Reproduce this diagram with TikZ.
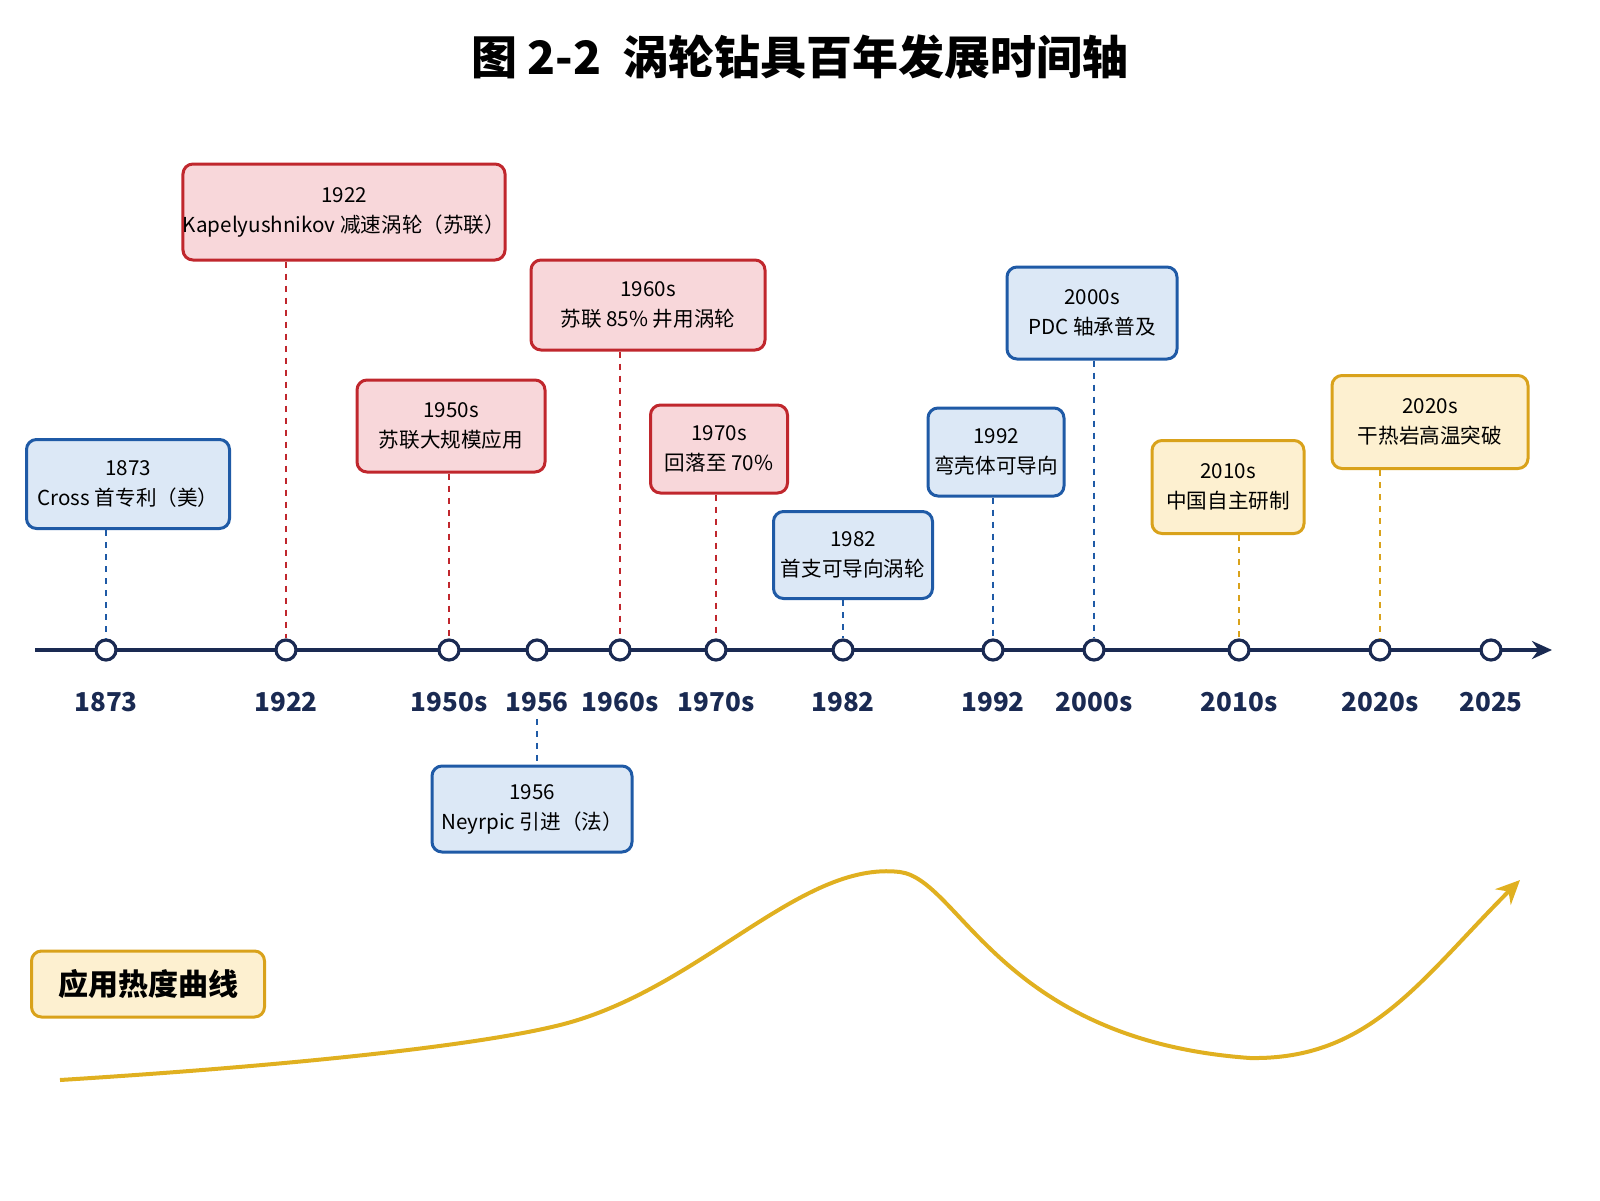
\documentclass[tikz,border=0pt]{standalone}
\usepackage{fontspec}
\setmainfont{Noto Sans CJK SC}
\usetikzlibrary{arrows.meta}
\definecolor{bfill}{HTML}{DCE8F6}\definecolor{bline}{HTML}{1F5AA6}
\definecolor{rfill}{HTML}{F8D7DA}\definecolor{rline}{HTML}{C0272D}
\definecolor{ofill}{HTML}{FDF0D0}\definecolor{oline}{HTML}{D9A21B}
\definecolor{navy}{HTML}{1A2A52}\definecolor{curve}{HTML}{E0B020}
\begin{document}
\begin{tikzpicture}[x=0.5pt,y=-0.5pt,
 box/.style={draw=#1line,fill=#1fill,line width=1.5pt,rounded corners=5pt,align=center,font=\fontsize{10.3}{15}\selectfont,text=black,inner sep=0pt},
 dl/.style={draw=#1line,dashed,line width=1pt},
 dot/.style={circle,draw=navy,fill=white,line width=1.6pt,minimum size=10pt,inner sep=0pt},
 yr/.style={font=\fontsize{13}{15}\selectfont\bfseries,text=navy}]
\useasboundingbox (0,0) rectangle (1600,1200);
\node[font=\fontsize{23}{26}\selectfont\bfseries] (title) at (800,57) {图 2-2\ \ 涡轮钻具百年发展时间轴};
\coordinate (a0) at (35,650); \coordinate (a1) at (1552,650);
\draw[navy,line width=2pt,-{Stealth[length=10pt,width=9pt]}] (a0) -- (a1);
\foreach \n/\x/\l in {p1/106/1873,p2/286/1922,p3/449/1950s,p4/537/1956,p5/620/1960s,p6/716/1970s,p7/843/1982,p8/993/1992,p9/1094/2000s,p10/1239/2010s,p11/1380/2020s,p12/1491/2025}{
 \node[dot] (\n) at (\x,650) {};
 \node[yr] (l\n) at (\x,702) {\l};}
\node[box=b,minimum width=101.5pt,minimum height=44.5pt] (b1) at (128,484) {1873\\Cross 首专利（美）};
\node[box=r,minimum width=160pt,minimum height=48pt] (b2) at (344,212) {1922\\Kapelyushnikov 减速涡轮（苏联）};
\node[box=r,minimum width=94pt,minimum height=46pt] (b3) at (451,426) {1950s\\苏联大规模应用};
\node[box=b,minimum width=100pt,minimum height=43pt] (b4) at (532,809) {1956\\Neyrpic 引进（法）};
\node[box=r,minimum width=117pt,minimum height=45pt] (b5) at (648,305) {1960s\\苏联 85\% 井用涡轮};
\node[box=r,minimum width=68.5pt,minimum height=44pt] (b6) at (719,449) {1970s\\回落至 70\%};
\node[box=b,minimum width=79.5pt,minimum height=43.5pt] (b7) at (853,555) {1982\\首支可导向涡轮};
\node[box=b,minimum width=68pt,minimum height=44pt] (b8) at (996,452) {1992\\弯壳体可导向};
\node[box=b,minimum width=85pt,minimum height=46pt] (b9) at (1092,313) {2000s\\PDC 轴承普及};
\node[box=o,minimum width=76pt,minimum height=46.5pt] (b10) at (1228,487) {2010s\\中国自主研制};
\node[box=o,minimum width=98pt,minimum height=46.5pt] (b11) at (1430,422) {2020s\\干热岩高温突破};
\draw[dl=b] (b1.south -| p1) -- (p1.north);
\draw[dl=r] (b2.south -| p2) -- (p2.north);
\draw[dl=r] (b3.south -| p3) -- (p3.north);
\draw[dl=b] (lp4.south) -- (b4.north -| p4);
\draw[dl=r] (b5.south -| p5) -- (p5.north);
\draw[dl=r] (b6.south -| p6) -- (p6.north);
\draw[dl=b] (b7.south -| p7) -- (p7.north);
\draw[dl=b] (b8.south -| p8) -- (p8.north);
\draw[dl=b] (b9.south -| p9) -- (p9.north);
\draw[dl=o] (b10.south -| p10) -- (p10.north);
\draw[dl=o] (b11.south -| p11) -- (p11.north);
\node[box=o,minimum width=116.5pt,minimum height=33pt,font=\fontsize{15}{18}\selectfont\bfseries] (leg) at (148,984) {应用热度曲线};
\coordinate (c0) at (60,1080); \coordinate (c1) at (560,1025); \coordinate (c2) at (900,872);
\coordinate (c3) at (1250,1058); \coordinate (c4) at (1520,880);
\draw[curve,line width=2pt,-{Stealth[length=12pt,width=11pt]}] (c0) .. controls (300,1065) and (480,1045) .. (c1)
 .. controls (700,990) and (800,860) .. (c2) .. controls (960,880) and (1000,1040) .. (c3)
 .. controls (1370,1060) and (1420,980) .. (c4);
\end{tikzpicture}
\end{document}
